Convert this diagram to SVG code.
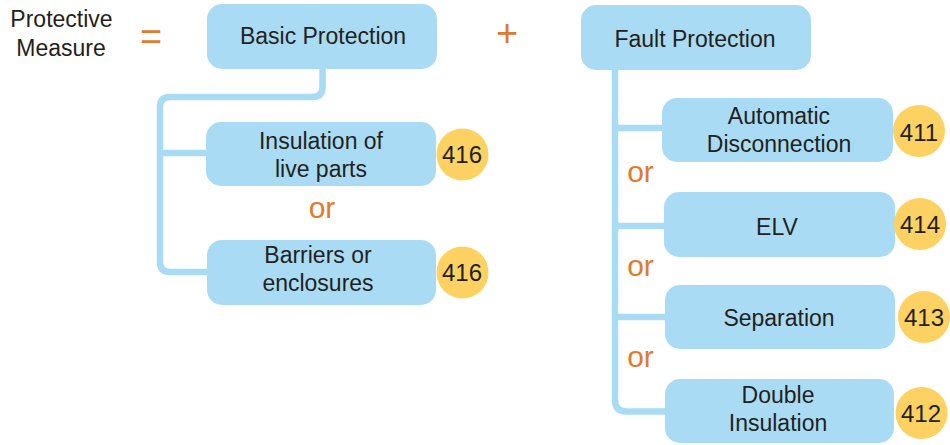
<svg xmlns="http://www.w3.org/2000/svg" width="950" height="445" viewBox="0 0 950 445">
<style>
.box{fill:#A9DCF4}
.badge{fill:#FDD162}
.t{font-family:"Liberation Sans",Arial,sans-serif;font-size:23px;fill:#231F20;text-anchor:middle}
.n{font-family:"Liberation Sans",Arial,sans-serif;font-size:24px;fill:#231F20;text-anchor:middle}
.or{font-family:"Liberation Sans",Arial,sans-serif;font-size:30px;fill:#E07A2E;text-anchor:middle}
.op{font-family:"Liberation Sans",Arial,sans-serif;font-size:38px;fill:#E07A2E;text-anchor:middle}
.c{fill:none;stroke:#A9DCF4;stroke-width:6.5}
</style>
<rect width="950" height="445" fill="#ffffff"/>
<g id="connectors">
<path class="c" d="M322.5 69 V87 Q322.5 97 312.5 97 H170 Q160 97 160 107 V262 Q160 272 170 272 H208"/>
<path class="c" d="M160 153 H208"/>
<path class="c" d="M615 69 V400 Q615 411.5 626.5 411.5 H666"/>
<path class="c" d="M615 128 H664"/>
<path class="c" d="M615 226 H666"/>
<path class="c" d="M615 317 H666"/>
</g>
<g id="protective-measure">
<text class="t" x="61.5" y="27">Protective</text>
<text class="t" x="61" y="55.5">Measure</text>
</g>
<text class="op" x="151" y="50">=</text>
<text class="op" x="507" y="46">+</text>
<g id="basic-protection">
<rect class="box" x="207" y="4" width="230" height="65" rx="15"/>
<text class="t" x="323" y="44">Basic Protection</text>
</g>
<g id="insulation-live-parts">
<rect class="box" x="206" y="122" width="230" height="64" rx="15"/>
<text class="t" x="321" y="149">Insulation of</text>
<text class="t" x="321" y="177">live parts</text>
</g>
<g id="badge-416a">
<circle class="badge" cx="462.5" cy="154.5" r="26"/>
<text class="n" x="462" y="163">416</text>
</g>
<text class="or" x="322" y="218">or</text>
<g id="barriers-enclosures">
<rect class="box" x="207" y="240" width="229" height="65" rx="15"/>
<text class="t" x="318" y="263">Barriers or</text>
<text class="t" x="318" y="291">enclosures</text>
</g>
<g id="badge-416b">
<circle class="badge" cx="462.5" cy="272.5" r="26"/>
<text class="n" x="462" y="281">416</text>
</g>
<g id="fault-protection">
<rect class="box" x="581" y="5" width="230" height="65" rx="15"/>
<text class="t" x="695" y="47">Fault Protection</text>
</g>
<g id="automatic-disconnection">
<rect class="box" x="662" y="98" width="231" height="64" rx="15"/>
<text class="t" x="779" y="124">Automatic</text>
<text class="t" x="779" y="152">Disconnection</text>
</g>
<g id="badge-411">
<circle class="badge" cx="919" cy="131" r="26"/>
<text class="n" x="919" y="141">411</text>
</g>
<text class="or" x="640.5" y="182">or</text>
<g id="elv">
<rect class="box" x="664" y="192" width="231" height="65" rx="15"/>
<text class="t" x="777" y="235">ELV</text>
</g>
<g id="badge-414">
<circle class="badge" cx="920" cy="224" r="26"/>
<text class="n" x="920" y="233">414</text>
</g>
<text class="or" x="640.5" y="276">or</text>
<g id="separation">
<rect class="box" x="665" y="285" width="230" height="64" rx="15"/>
<text class="t" x="779" y="326">Separation</text>
</g>
<g id="badge-413">
<circle class="badge" cx="924" cy="317" r="26"/>
<text class="n" x="924" y="326">413</text>
</g>
<text class="or" x="640.5" y="366.5">or</text>
<g id="double-insulation">
<rect class="box" x="665" y="379" width="229" height="64" rx="15"/>
<text class="t" x="778" y="403">Double</text>
<text class="t" x="778" y="431">Insulation</text>
</g>
<g id="badge-412">
<circle class="badge" cx="921.5" cy="413" r="26"/>
<text class="n" x="921" y="422">412</text>
</g>
</svg>
